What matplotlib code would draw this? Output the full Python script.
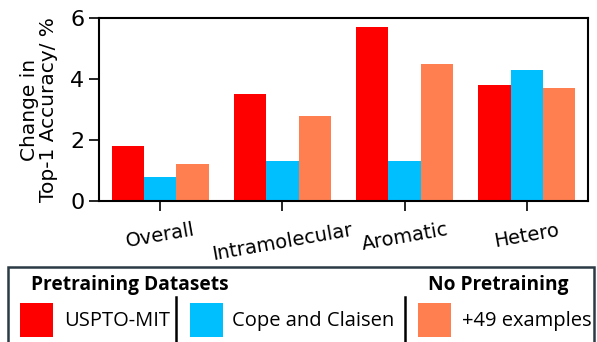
import matplotlib
matplotlib.use("Agg")
import matplotlib.pyplot as plt
import numpy as np
from matplotlib.patches import Rectangle
from matplotlib.lines import Line2D

categories = ["Overall", "Intramolecular", "Aromatic", "Hetero"]
uspto_mit = [1.8, 3.5, 5.7, 3.8]
cope_claisen = [0.8, 1.3, 1.3, 4.3]
plus49 = [1.2, 2.8, 4.5, 3.7]
series_names = ["USPTO-MIT", "Cope and Claisen", "+49 examples"]
colors = ["#FF0000", "#00BFFF", "#FF7F50"]
yticks = [0, 2, 4, 6]

W, H = 597, 342
fig = plt.figure(figsize=(W / 100, H / 100), dpi=100)
ax = fig.add_axes([99 / W, 1 - 201 / H, (588 - 99) / W, (201 - 18) / H])

x = np.arange(len(categories))
width = 0.265
for i, (vals, c) in enumerate(zip([uspto_mit, cope_claisen, plus49], colors)):
    ax.bar(x + (i - 1) * width, vals, width, color=c, edgecolor="none")

ax.set_xlim(-0.5, 3.5)
ax.set_ylim(0, 6)
ax.set_yticks(yticks)
ax.set_xticks(x)
ax.set_xticklabels(categories, rotation=10, ha="center", fontsize=14, family="DejaVu Sans")
ax.tick_params(axis="y", labelsize=16, length=7, width=1.2)
ax.tick_params(axis="x", length=7, width=1.2, pad=7)
for s in ax.spines.values():
    s.set_linewidth(1.5)
ax.set_ylabel("Change in\nTop-1 Accuracy/ %", fontsize=14.5, labelpad=9,
              family="DejaVu Sans", linespacing=1.0)

# Legend box drawn in figure pixel coordinates
def fx(px):
    return px / W

def fy(py):
    return 1 - py / H

edge = "#2b3a44"
fig.patches.append(Rectangle((fx(8), fy(345)), fx(594) - fx(8), fy(267) - fy(345),
                             transform=fig.transFigure, facecolor="white",
                             edgecolor=edge, linewidth=1.8, clip_on=False))
lfont = "Open Sans"
fig.text(fx(31), fy(285), "Pretraining Datasets", fontsize=13.8, fontweight="bold",
         family=lfont, va="center", ha="left")
fig.text(fx(498), fy(285), "No Pretraining", fontsize=13.8, fontweight="bold",
         family=lfont, va="center", ha="center")

sq = [(20, 53), (190, 223), (418, 451)]
txt_x = [64, 232, 462]
for (x0, x1), tx, c, name in zip(sq, txt_x, colors, series_names):
    fig.patches.append(Rectangle((fx(x0), fy(337)), fx(x1) - fx(x0), fy(303) - fy(337),
                                 transform=fig.transFigure, facecolor=c,
                                 edgecolor="none"))
    fig.text(fx(tx), fy(321), name, fontsize=14.5, family=lfont,
             va="center", ha="left")

for sx in [176, 405]:
    fig.lines.append(Line2D([fx(sx), fx(sx)], [fy(297), fy(345)],
                            transform=fig.transFigure, color="black", linewidth=1.8))

fig.savefig("out.png", dpi=100)
